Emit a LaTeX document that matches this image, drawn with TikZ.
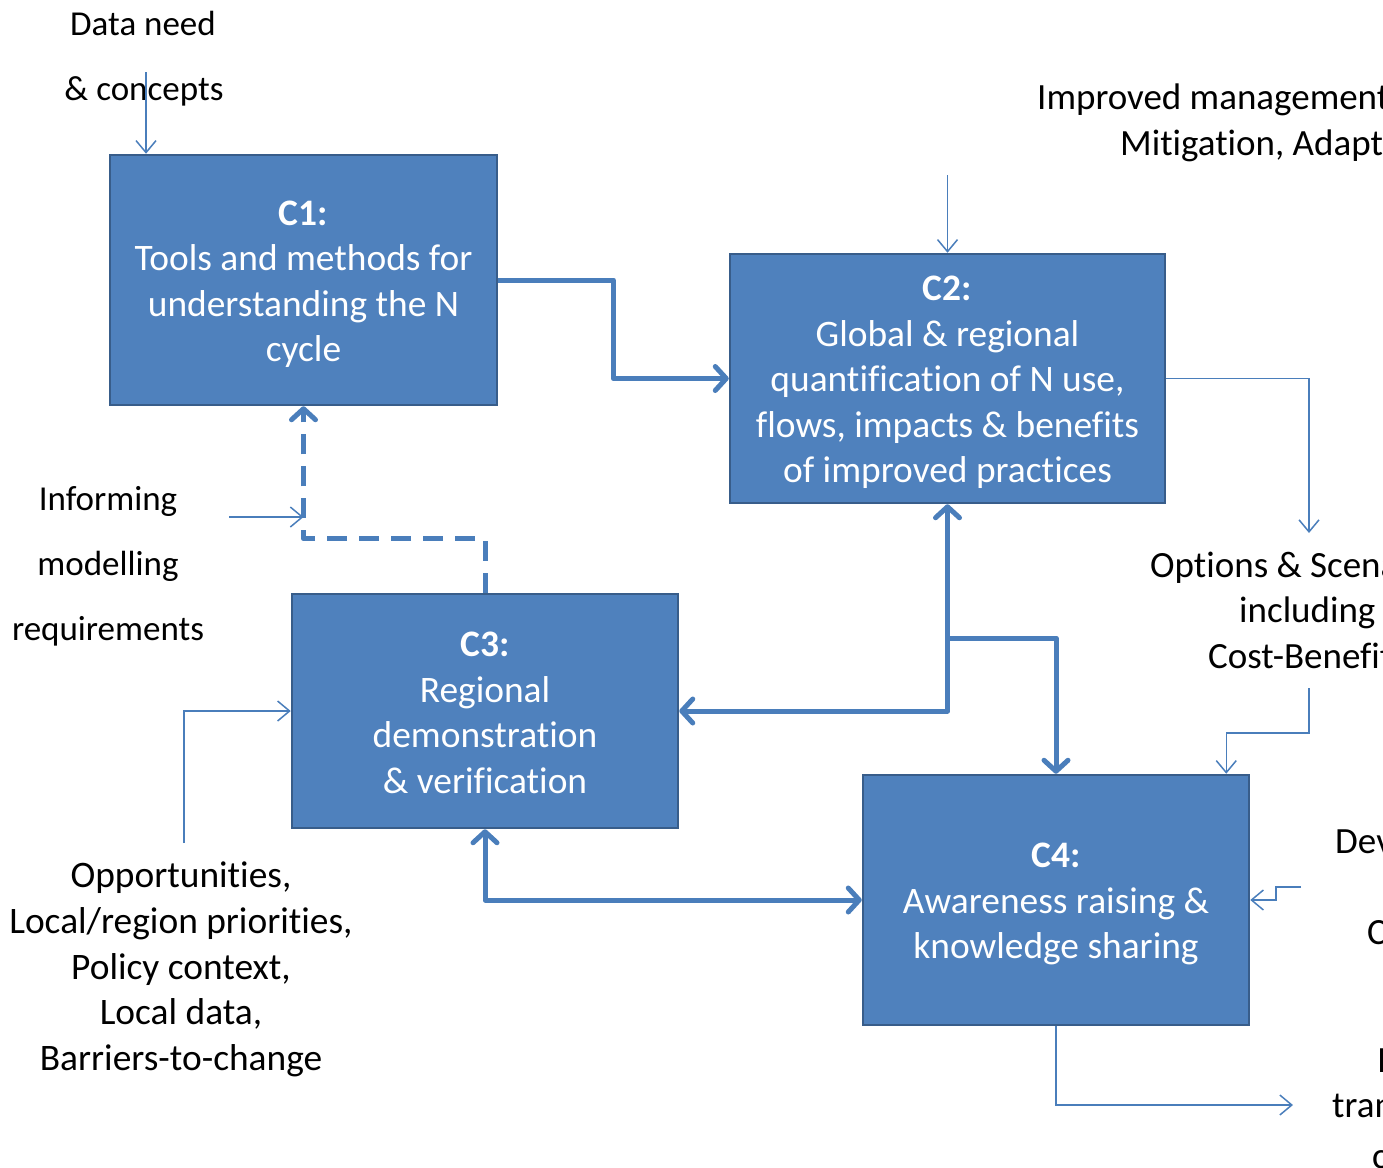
\documentclass[tikz,border=0pt]{standalone}
\usepackage{fontspec}
\setmainfont{Carlito}[Ligatures={NoCommon,NoContextual}]
\usetikzlibrary{arrows.meta}
\definecolor{boxfill}{HTML}{4F81BD}
\definecolor{boxline}{HTML}{385D8A}
\definecolor{conn}{HTML}{4A7EBB}
\begin{document}
\begin{tikzpicture}[x=1pt,y=-1pt,
  box/.style={draw=boxline,line width=2.5pt,fill=boxfill,inner sep=0pt},
  boxtext/.style={text=white,inner sep=0pt,align=center,font=\fontsize{37.4}{45.5}\selectfont},
  lbl/.style={anchor=base,inner sep=0pt,font=\fontsize{35}{40}\selectfont},
  lblb/.style={anchor=base,inner sep=0pt,font=\fontsize{37.4}{40}\selectfont},
  lblw/.style={anchor=base west,inner sep=0pt,font=\fontsize{37}{40}\selectfont},
  thick conn/.style={draw=conn,line width=5pt,line join=round},
  thin conn/.style={draw=conn,line width=1.5pt},
  tip/.tip={Straight Barb[length=11pt,width=24pt,round]},
  ttip/.tip={Straight Barb[length=12pt,width=20pt]}]
\path[use as bounding box] (0,0) rectangle (1383,1167);
\clip (0,0) rectangle (1383,1167);

% boxes
\node[box,minimum width=387pt,minimum height=250pt] (c1) at (303.5,280) {};
\node[box,minimum width=435pt,minimum height=249pt] (c2) at (947.5,378.5) {};
\node[box,minimum width=386pt,minimum height=234pt] (c3) at (485,711) {};
\node[box,minimum width=386pt,minimum height=250pt] (c4) at (1056,900) {};
\node[boxtext] (c1t) at ([yshift=-4pt]c1.center)
  {\textbf{C1:}\\Tools and methods for\\understanding the N\\cycle};
\node[boxtext] (c2t) at ([yshift=-4pt]c2.center)
  {\textbf{C2:}\\Global \& regional\\quantification of N use,\\flows, impacts \& benefits\\of improved practices};
\node[boxtext] (c3t) at ([yshift=-2pt]c3.center)
  {\textbf{C3:}\\Regional\\demonstration\\\& verification};
\node[boxtext] (c4t) at ([yshift=-4pt]c4.center)
  {\textbf{C4:}\\Awareness raising \&\\knowledge sharing};

% outside labels
\node[lbl] (t1) at (143,35) {Data need};
\node[lbl] (t2) at (144,100) {\& concepts};
\node[lbl] (t3) at (108,510) {Informing};
\node[lbl] (t4) at (108,575) {modelling};
\node[lbl] (t5) at (108,640) {requirements};
\node[lblb] (o1) at (181,887) {Opportunities,};
\node[lblb] (o2) at (181,933) {Local/region priorities,};
\node[lblb] (o3) at (181,979) {Policy context,};
\node[lblb] (o4) at (181,1024) {Local data,};
\node[lblb] (o5) at (181,1070) {Barriers-to-change};
\node[lblw] (r1) at (1037,109) {Improved management};
\node[lblw] (r2) at (1120,155) {Mitigation, Adaptation};
\node[lblw] (r3) at (1150,577) {Options \& Scenarios};
\node[lblw] (r4) at (1239,622) {including};
\node[lblw] (r5) at (1208,668) {Cost-Benefit};
\node[lblw] (r6) at (1335,853) {Dev};
\node[lblw] (r7) at (1367,944) {C};
\node[lblw] (r8) at (1377,1072) {I};
\node[lblw] (r9) at (1332,1117) {tran};
\node[lblw] (r10) at (1372,1168) {c};

% free ends
\coordinate (dn) at (146,72);
\coordinate (im) at (947.5,175);
\coordinate (os) at (1309,533);
\coordinate (ob) at (1309,688);
\coordinate (dv) at (1301,887);
\coordinate (it) at (1293,1105);
\coordinate (inf) at (229,517);
\coordinate (op) at (184,843);
\coordinate (jn) at (947.5,638);

% thick connectors
\draw[thick conn,-{tip}] (c1.east) -- ++(115,0) |- (c2.west);
\draw[thick conn,{tip}-{tip}] (c2.south) |- (c3.east);
\draw[thick conn,-{tip}] (jn) -| (c4.north);
\draw[thick conn,{tip}-{tip}] (c3.south) |- (c4.west);
\draw[thick conn,dash pattern=on 20pt off 12pt,-{tip}] (c3.north) -- ++(0,-54) -| (c1.south);

% thin connectors
\draw[thin conn,-{ttip}] (dn) -- (dn |- c1.north);
\draw[thin conn,-{ttip}] (im) -- (c2.north);
\draw[thin conn,-{ttip}] (c2.east) -| (os);
\draw[thin conn,-{ttip}] (ob) -- ++(0,45) -| ([xshift=-24pt]c4.north east);
\draw[thin conn,-{ttip}] (dv) -- ++(-25,0) |- (c4.east);
\draw[thin conn,-{ttip}] (c4.south) |- (it);
\draw[thin conn,-{ttip}] (inf) -- (inf -| c1.south);
\draw[thin conn,-{ttip}] (op) |- (c3.west);
\end{tikzpicture}
\end{document}
